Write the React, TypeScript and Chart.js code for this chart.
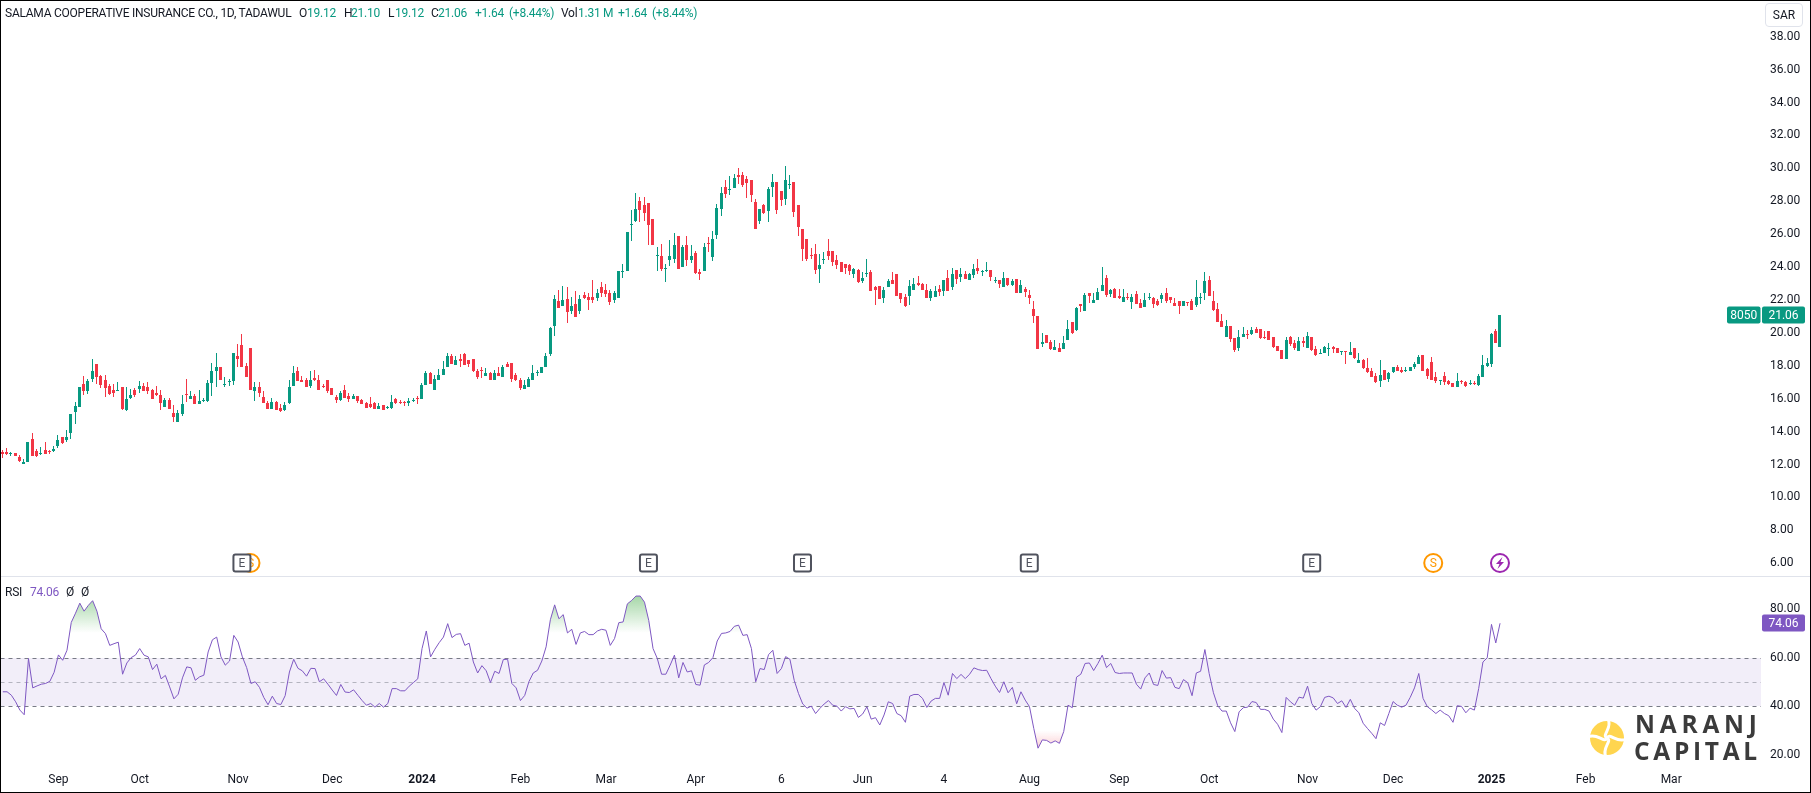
import { useEffect, useRef } from "react";
import { Chart, registerables } from "chart.js";
Chart.register(...registerables);

const highs = [
  12.87,12.99,12.77,12.69,12.57,12.32,13.35,13.90,12.93,13.05,13.35,12.87,13.11,13.78,13.66,14.08,15.05,15.78,16.69,17.41,
  17.23,18.44,18.14,17.47,17.47,16.87,16.87,16.99,16.69,16.69,16.57,16.63,17.05,16.93,16.99,16.57,16.75,16.51,16.02,16.02,
  15.60,15.29,16.20,17.23,16.45,16.26,16.51,16.02,17.11,18.20,18.75,17.96,17.35,17.23,18.75,19.35,19.96,18.20,19.11,16.99,
  16.99,16.45,15.84,16.02,15.84,15.66,15.78,17.11,18.02,17.96,17.41,17.29,17.66,17.72,17.47,16.87,17.11,16.63,16.20,16.45,
  16.81,16.32,16.26,16.14,15.96,15.78,16.08,15.78,15.72,15.60,15.54,16.20,16.02,15.90,15.84,16.02,16.02,16.14,16.93,17.66,
  17.60,17.47,17.78,18.32,18.81,18.69,18.57,18.69,18.75,18.38,18.44,17.78,17.90,17.84,17.60,17.72,17.96,18.08,18.26,18.20,
  17.54,17.29,17.11,17.35,18.08,17.72,17.96,18.75,20.38,22.32,22.63,22.87,22.81,22.20,22.56,22.32,22.50,22.44,23.23,22.69,
  23.11,22.99,22.63,22.56,23.78,24.20,26.14,27.47,28.50,28.26,28.26,27.90,26.93,25.23,25.41,24.20,25.66,26.08,25.90,25.35,
  25.90,25.35,24.99,23.90,25.47,25.84,26.20,27.84,28.87,29.29,29.53,29.66,30.02,29.78,29.53,29.29,28.14,27.53,27.84,28.87,
  29.66,29.17,28.63,30.14,29.60,29.17,27.78,26.32,25.72,25.17,25.41,24.81,24.93,25.72,24.99,24.75,24.32,24.20,24.20,23.96,
  23.90,23.72,24.50,23.84,22.87,22.87,22.81,23.29,23.72,23.60,22.45,22.39,23.23,23.36,23.48,23.05,22.99,22.69,22.87,22.93,
  23.23,23.84,23.96,23.84,23.96,23.78,23.66,24.20,24.51,23.84,24.32,23.84,23.42,23.23,23.72,23.36,23.30,23.30,23.23,22.81,
  22.63,21.96,21.05,20.02,19.90,19.54,19.54,19.36,19.84,20.81,20.69,21.60,21.78,22.45,22.45,22.45,22.75,24.02,23.54,22.69,
  22.75,22.69,22.69,22.45,22.39,22.57,22.08,22.45,22.45,22.20,22.08,22.45,22.75,22.20,22.14,21.96,21.96,21.90,22.08,23.23,
  22.45,23.72,23.48,22.57,21.84,21.17,20.81,20.45,19.72,20.20,20.33,20.20,20.33,20.39,20.26,20.14,20.14,19.78,19.23,18.99,
  19.78,19.84,19.54,19.78,19.78,20.08,19.78,19.23,19.05,19.23,19.36,19.23,19.11,18.93,18.93,19.42,19.11,18.81,18.39,18.45,
  17.84,17.54,18.33,17.72,17.60,17.96,18.08,17.96,17.90,17.90,18.26,18.63,18.63,17.84,18.51,17.60,17.17,17.60,17.11,16.93,
  17.54,17.17,17.05,17.17,17.05,17.48,18.63,18.45,20.02,20.26,21.10,
];

const lows = [
  12.40,12.57,12.53,12.51,12.18,12.02,12.14,12.51,12.45,12.57,12.63,12.65,12.77,12.99,13.23,13.35,13.54,14.45,15.48,16.20,
  16.26,16.99,16.87,16.63,16.08,16.20,16.08,16.45,15.29,15.23,15.96,16.08,16.32,16.45,16.26,15.96,16.14,15.29,15.48,15.35,
  14.57,14.57,14.93,15.78,15.96,15.66,15.66,15.78,15.78,16.14,16.69,17.11,16.69,16.75,16.81,17.96,17.90,17.35,16.51,15.84,
  16.08,15.72,15.35,15.35,15.29,15.17,15.23,15.66,16.75,17.05,16.99,16.69,16.63,17.05,16.51,16.63,16.38,16.20,15.72,15.84,
  16.02,15.78,15.96,15.72,15.66,15.41,15.41,15.35,15.35,15.29,15.35,15.35,15.66,15.66,15.54,15.54,15.78,15.66,15.96,16.81,
  16.87,16.51,17.17,17.47,17.90,18.14,18.08,17.96,18.08,17.96,17.60,17.23,17.29,17.41,17.11,17.11,17.41,17.35,17.92,16.99,
  17.05,16.51,16.57,16.69,17.17,17.41,17.54,17.96,18.57,19.84,21.53,21.66,20.63,21.17,20.99,21.17,22.08,21.41,21.84,21.96,
  22.20,22.20,21.72,21.84,22.14,23.35,23.78,25.60,26.75,26.75,26.81,25.35,25.35,23.78,23.78,23.11,24.08,24.26,23.90,24.02,
  24.08,24.26,23.60,23.23,23.78,24.93,24.38,25.72,27.11,28.20,28.38,28.81,29.05,28.87,28.20,27.96,26.32,26.63,27.23,26.75,
  28.26,27.23,27.72,27.78,28.75,27.05,25.90,24.38,24.38,24.50,23.60,23.05,24.20,24.44,24.08,23.90,23.72,23.60,23.53,23.35,
  23.05,23.05,23.41,22.56,21.72,22.08,21.84,22.81,22.99,22.26,21.84,21.60,21.72,22.63,22.87,22.63,22.14,21.96,22.20,22.26,
  22.26,22.57,22.63,22.99,23.11,23.30,23.23,23.36,23.60,23.48,23.72,23.17,23.05,22.75,22.81,22.87,22.87,22.45,22.45,22.20,
  21.78,20.63,19.05,19.17,19.36,18.99,18.99,18.87,19.05,19.54,19.96,20.14,21.29,21.36,21.84,21.84,22.02,22.57,22.20,22.20,
  22.14,22.08,21.90,22.02,21.48,21.78,21.54,21.60,22.02,21.54,21.66,21.84,21.84,21.84,21.66,21.17,21.66,21.66,21.42,21.60,
  21.78,22.02,22.26,21.36,20.69,20.33,19.78,19.42,18.87,18.93,19.78,19.66,19.90,20.02,19.66,19.66,19.60,19.11,18.93,18.39,
  18.39,19.23,18.99,18.93,19.17,19.11,18.93,18.57,18.69,18.81,18.57,18.81,18.81,18.63,18.14,18.63,18.39,18.20,17.78,17.54,
  17.30,16.93,16.69,17.11,16.99,17.54,17.66,17.54,17.60,17.66,17.78,18.14,17.66,17.23,17.11,16.93,16.81,16.81,16.81,16.69,
  16.69,16.87,16.69,16.81,16.81,16.75,17.30,17.96,17.96,19.36,19.12,
];

const opens = [
  12.77,12.75,12.63,12.69,12.45,12.02,12.14,13.54,12.81,12.63,12.87,12.83,12.81,13.11,13.66,13.48,13.90,15.17,15.48,16.87,
  16.45,17.23,18.14,17.41,17.11,16.75,16.51,16.45,16.69,15.29,16.02,16.51,16.57,16.75,16.69,16.51,16.38,16.20,15.48,15.90,
  15.11,14.57,15.05,16.26,15.96,16.14,15.66,15.84,15.84,16.93,17.66,17.90,16.81,17.01,17.05,18.57,19.29,18.02,19.11,16.45,
  16.69,16.08,15.72,15.35,15.78,15.41,15.29,15.72,16.75,17.66,17.11,17.11,16.75,17.29,17.17,16.75,17.11,16.63,16.08,15.90,
  16.51,16.14,15.96,16.14,15.90,15.72,15.66,15.72,15.35,15.60,15.41,15.41,15.96,15.78,15.78,15.72,15.86,16.04,15.96,16.81,
  17.54,16.51,17.17,17.47,17.90,18.57,18.08,18.44,18.69,18.38,18.44,17.66,17.74,17.41,17.54,17.11,17.54,17.35,18.14,18.20,
  17.47,17.17,16.57,16.69,17.17,17.54,17.54,17.96,18.69,20.44,21.96,21.66,22.08,21.35,21.78,21.35,22.32,22.20,22.20,22.14,
  22.81,22.63,22.44,22.02,22.14,23.72,23.78,26.56,26.81,28.02,27.78,27.90,26.93,24.69,24.69,23.90,24.44,24.50,25.90,24.02,
  25.35,24.44,24.87,23.72,23.78,25.47,24.63,25.96,27.53,28.87,28.69,28.81,29.60,29.60,29.35,29.29,27.96,26.81,27.78,27.41,
  28.87,29.17,28.63,28.14,28.99,29.17,27.78,26.32,25.72,24.75,24.81,23.90,24.44,24.99,24.99,24.44,24.32,24.20,24.14,23.60,
  23.84,23.17,23.60,23.72,22.81,22.87,22.14,22.81,23.23,23.60,22.45,22.20,22.26,22.63,23.05,22.99,22.63,22.14,22.20,22.69,
  22.57,23.36,22.81,23.84,23.42,23.60,23.23,23.54,23.96,23.72,23.78,23.84,23.17,23.23,22.81,23.36,22.93,23.30,22.45,22.69,
  22.33,21.48,21.05,19.30,19.90,19.42,18.99,19.11,19.05,19.60,20.69,20.20,21.78,21.36,22.45,21.84,22.02,22.57,23.36,22.39,
  22.69,22.26,21.90,22.20,21.90,22.39,21.84,21.60,22.14,22.14,21.96,22.08,22.45,22.20,21.84,21.96,21.66,21.90,21.96,21.72,
  22.14,22.45,23.23,21.96,21.48,20.75,19.78,20.45,19.72,19.11,19.78,19.96,19.96,20.26,20.26,19.78,20.14,19.78,19.23,18.99,
  18.39,19.78,19.36,18.93,19.48,19.11,19.78,19.05,18.75,18.81,19.07,19.17,19.09,18.87,18.93,18.63,19.11,18.20,18.33,17.84,
  17.66,17.36,17.05,17.72,17.23,17.60,17.90,17.72,17.66,17.66,17.90,18.14,18.63,17.78,18.26,17.30,17.11,17.36,17.05,16.93,
  16.69,17.05,16.99,16.87,16.95,16.81,17.30,18.02,18.14,20.14,19.12,
];

const closes = [
  12.63,12.63,12.71,12.51,12.20,12.14,13.35,12.51,12.55,12.69,12.63,12.77,12.93,13.48,13.29,13.66,15.05,15.54,16.69,16.45,
  17.05,17.66,17.35,16.81,16.63,16.26,16.38,16.51,15.35,15.96,16.20,16.20,16.75,16.45,16.45,15.96,16.20,15.72,15.90,15.35,
  14.87,15.11,15.66,16.20,16.14,15.66,15.84,15.90,16.93,17.66,17.90,17.17,16.87,17.05,18.75,18.44,17.90,17.35,16.51,16.69,
  16.38,15.72,15.35,15.78,15.29,15.23,15.60,16.69,17.54,17.05,16.99,16.69,17.17,17.11,16.51,16.69,16.45,16.20,15.90,16.38,
  16.02,15.96,16.14,15.84,15.66,15.41,15.48,15.35,15.54,15.29,15.48,15.78,15.72,15.72,15.72,15.84,15.92,15.98,16.81,17.54,
  16.87,17.23,17.47,17.78,18.57,18.14,18.38,18.32,18.08,18.14,17.66,17.35,17.68,17.54,17.11,17.54,17.41,17.96,17.96,17.23,
  17.11,16.63,16.81,17.23,17.54,17.60,17.96,18.57,20.32,22.08,21.53,22.02,21.29,21.66,20.99,22.08,22.14,22.02,22.02,22.44,
  22.44,22.38,21.90,22.44,23.78,23.78,26.14,26.63,27.53,27.47,27.29,26.56,25.35,24.75,23.90,23.96,24.69,25.35,23.90,25.23,
  24.44,24.69,23.66,23.60,25.23,25.41,25.72,27.60,28.50,28.44,28.75,29.41,29.47,28.99,29.11,28.38,26.32,27.53,27.29,28.75,
  29.17,27.47,28.08,29.29,29.05,27.35,26.44,25.11,24.50,24.69,23.84,24.14,24.50,24.69,24.32,24.14,23.72,23.96,23.78,23.90,
  23.11,23.35,23.66,22.56,22.63,22.08,22.63,23.17,22.99,22.26,22.08,21.66,22.87,22.99,22.93,22.63,22.14,22.57,22.57,22.51,
  23.23,22.57,23.60,23.30,23.60,23.30,23.60,23.90,23.78,23.78,23.84,23.42,23.23,22.99,23.36,22.93,23.17,22.45,22.93,22.51,
  22.14,21.05,19.05,19.42,19.36,19.05,19.17,18.87,19.36,20.26,20.02,21.54,21.66,22.33,22.26,22.02,22.51,22.93,22.33,22.63,
  22.14,22.14,22.20,22.14,22.20,21.78,21.54,22.02,22.20,21.78,21.72,22.33,21.96,22.02,21.66,21.66,21.96,21.84,21.42,22.20,
  22.20,23.17,22.26,21.42,20.69,20.39,20.45,19.66,18.99,19.78,19.96,19.90,20.20,20.02,19.72,19.72,19.60,19.17,18.93,18.39,
  19.60,19.30,19.11,19.48,19.36,19.84,18.99,18.63,18.81,19.17,19.11,19.05,18.81,18.93,18.87,18.87,18.45,18.33,17.84,17.60,
  17.30,17.00,17.42,17.17,17.54,17.90,17.66,17.60,17.72,17.90,18.14,18.51,17.66,17.36,17.17,17.05,17.17,16.99,16.87,16.69,
  17.05,16.99,16.75,16.93,16.89,17.36,18.08,18.20,19.96,19.36,21.06,
];

const rsi = [
  46.0,46.0,44.6,41.9,38.5,36.6,59.6,47.6,48.4,49.1,49.4,50.3,54.0,61.1,58.9,63.0,74.4,78.2,82.3,79.0,
  81.4,83.3,79.0,71.8,69.8,65.0,65.7,66.3,53.2,57.8,60.0,61.0,63.7,61.0,60.3,55.1,57.3,51.3,52.7,48.0,
  43.1,45.0,51.7,56.2,55.8,50.7,52.1,52.8,62.3,67.3,68.4,60.3,56.9,58.6,69.1,66.4,60.3,55.9,49.4,50.1,
  47.8,43.7,40.7,44.2,41.2,40.8,44.4,54.1,59.3,55.6,54.6,52.4,55.6,55.5,50.1,51.3,49.1,46.7,44.5,49.0,
  45.9,45.7,46.8,44.6,42.4,40.5,41.2,39.7,41.2,39.7,41.2,47.3,47.3,46.4,46.4,48.3,49.8,51.3,63.7,70.9,
  60.3,63.4,66.1,68.4,73.9,68.2,69.5,69.8,65.0,65.9,58.2,53.7,56.7,54.6,49.8,54.4,53.5,59.2,59.3,49.4,
  47.6,42.4,44.5,50.2,53.7,54.8,58.6,64.4,75.5,81.6,75.9,77.6,70.1,71.6,65.4,70.1,70.7,69.4,69.4,70.9,
  71.6,71.2,65.0,67.8,74.3,74.6,82.0,83.4,85.2,85.2,82.7,75.2,63.7,59.6,53.2,53.2,56.9,61.0,51.7,58.0,
  54.1,54.6,49.0,48.7,57.0,58.0,60.0,66.8,69.9,70.1,70.7,72.8,73.3,69.1,69.4,63.7,50.1,55.5,55.1,61.2,
  63.0,53.5,55.5,60.4,59.3,50.7,45.3,41.0,39.3,40.1,37.1,39.2,41.0,42.4,40.5,40.1,38.1,39.9,39.0,39.2,
  35.5,36.9,39.9,34.8,35.4,32.4,36.5,41.9,41.2,37.1,36.2,33.5,44.2,44.9,44.9,43.3,39.6,42.2,43.3,43.3,
  49.8,44.6,53.5,51.4,53.1,51.4,53.2,55.8,55.1,54.7,54.8,51.4,48.3,45.7,50.1,45.6,47.8,41.1,46.0,42.6,
  39.9,31.0,22.9,26.3,26.1,25.0,25.9,24.9,29.7,40.5,39.5,52.0,53.2,57.6,57.8,54.7,57.6,61.0,55.9,57.6,
  53.9,53.5,53.7,53.7,53.7,49.1,47.1,51.7,53.7,49.0,48.6,54.7,51.6,51.8,47.8,47.3,51.0,49.7,44.4,53.7,
  54.4,63.3,53.5,45.6,40.3,38.1,38.1,33.3,29.7,37.8,39.5,39.7,42.0,41.6,38.8,38.8,38.1,34.8,32.7,29.3,
  43.7,41.9,40.5,43.8,43.4,48.3,41.2,38.5,39.9,43.7,44.2,43.5,41.2,42.3,39.6,42.9,39.2,37.4,33.1,31.0,
  29.0,26.8,33.3,32.2,37.1,42.0,40.5,39.7,40.5,43.7,47.6,53.5,43.3,39.9,38.6,37.1,38.5,37.1,36.2,33.5,
  40.3,40.0,37.4,39.3,38.5,47.3,58.2,59.9,73.6,66.0,74.06,
];

const priceTicks = [6, 8, 10, 12, 14, 16, 18, 20, 22, 24, 26, 28, 30, 32, 34, 36, 38];
const rsiTicks = [20, 40, 60, 80];
const timeBars = [13, 32, 55, 77, 98, 121, 141, 162, 182, 201, 220, 240, 261, 282, 305, 325, 348, 370, 390];
const timeNames = ["Sep", "Oct", "Nov", "Dec", "2024", "Feb", "Mar", "Apr", "6", "Jun", "4", "Aug", "Sep", "Oct", "Nov", "Dec", "2025", "Feb", "Mar"];
const eventBars = [58, 56, 151, 187, 240, 306, 334.4, 350];
const eventKinds = ["S", "E", "E", "E", "E", "E", "S", "F"];

const UP = "#089981";
const DOWN = "#F23645";
const PURPLE = "#7E57C2";
const TEXT = "#131722";
const FONT = "Roboto, sans-serif";
const X_MIN = -0.54;
const X_MAX = 411;

const xScale = (show: boolean) => ({
  type: "linear" as const,
  min: X_MIN,
  max: X_MAX,
  offset: false,
  display: show,
  grid: { display: false, drawTicks: false },
  border: { display: false },
  afterBuildTicks: (s: any) => { s.ticks = timeBars.map(value => ({ value })); },
  afterFit: (s: any) => {
    s.height = show ? 26 : 0;
    s.paddingLeft = 0;
    s.paddingRight = 0;
  },
  ticks: {
    autoSkip: false,
    maxRotation: 0,
    padding: 6,
    color: TEXT,
    font: (c: any) => ({ family: FONT, size: 12, weight: /^20/.test(timeNames[c.index] ?? "") ? "bold" : "normal" }),
    callback: (v: any) => timeNames[timeBars.indexOf(v)] ?? "",
  },
});

const yScale = (min: number, max: number, values: number[]) => ({
  position: "right" as const,
  min,
  max,
  grid: { display: false, drawTicks: false },
  border: { display: false },
  afterBuildTicks: (s: any) => { s.ticks = values.map(value => ({ value })); },
  afterFit: (s: any) => {
    s.width = 50;
    s.paddingTop = 0;
    s.paddingBottom = 0;
  },
  ticks: {
    padding: 9,
    color: TEXT,
    font: { family: FONT, size: 12 },
    callback: (v: any) => Number(v).toFixed(2),
  },
});

// keeps the candles on whole pixels the way the original chart does
const snapBars = {
  id: "snapBars",
  afterDatasetsUpdate(chart: any) {
    chart.data.datasets.forEach((_: any, k: number) => {
      for (const el of chart.getDatasetMeta(k).data) {
        el.x = Math.floor(el.x) + 0.5;
        el.y = Math.round(el.y);
        el.base = Math.round(el.base);
        if (el.y === el.base) el.base += 1;
      }
    });
  },
};

function roundBox(ctx: CanvasRenderingContext2D, x: number, y: number, w: number, h: number, r: number) {
  ctx.beginPath();
  ctx.roundRect(x, y, w, h, r);
}

function valueTag(ctx: CanvasRenderingContext2D, text: string, x: number, y: number, w: number, color: string) {
  ctx.fillStyle = color;
  roundBox(ctx, x, y - 8.5, w, 17, 2);
  ctx.fill();
  ctx.fillStyle = "#fff";
  ctx.font = `12px ${FONT}`;
  ctx.textAlign = "center";
  ctx.textBaseline = "middle";
  ctx.fillText(text, x + w / 2, y + 0.5);
}

const priceMarks = {
  id: "priceMarks",
  afterDraw(chart: any) {
    const { ctx, scales } = chart;
    ctx.save();
    eventBars.forEach((bar, i) => {
      const x = scales.x.getPixelForValue(bar);
      const y = 563;
      const kind = eventKinds[i];
      ctx.lineWidth = 2;
      ctx.fillStyle = "#fff";
      if (kind === "E") {
        ctx.strokeStyle = "#50535E";
        roundBox(ctx, x - 8.5, y - 8.5, 17, 17, 2);
        ctx.fill();
        ctx.stroke();
        ctx.fillStyle = "#50535E";
      } else {
        ctx.strokeStyle = kind === "S" ? "#FF9800" : "#9C27B0";
        ctx.beginPath();
        ctx.arc(x, y, 9, 0, Math.PI * 2);
        ctx.fill();
        ctx.stroke();
        ctx.fillStyle = ctx.strokeStyle;
      }
      ctx.textAlign = "center";
      ctx.textBaseline = "middle";
      if (kind === "F") {
        ctx.beginPath();
        ctx.moveTo(x + 2.5, y - 6);
        ctx.lineTo(x - 4, y + 1);
        ctx.lineTo(x - 0.5, y + 1);
        ctx.lineTo(x - 2.5, y + 6);
        ctx.lineTo(x + 4, y - 1);
        ctx.lineTo(x + 0.5, y - 1);
        ctx.closePath();
        ctx.fill();
      } else {
        ctx.font = `12px ${FONT}`;
        ctx.fillText(kind, x, y + 0.5);
      }
    });
    const y = Math.round(scales.y.getPixelForValue(closes[closes.length - 1]));
    valueTag(ctx, "8050", 1727, y, 33.5, UP);
    valueTag(ctx, closes[closes.length - 1].toFixed(2), 1762, y, 43, UP);
    ctx.restore();
  },
};

const rsiMarks = {
  id: "rsiMarks",
  beforeDatasetsDraw(chart: any) {
    const { ctx, scales, chartArea } = chart;
    const top = Math.round(scales.y.getPixelForValue(60));
    const bottom = Math.round(scales.y.getPixelForValue(40));
    ctx.save();
    ctx.fillStyle = "rgba(126,87,194,0.1)";
    ctx.fillRect(chartArea.left, top, chartArea.right - chartArea.left, bottom - top);
    ctx.setLineDash([4, 4]);
    ctx.lineWidth = 1;
    [60, 50, 40].forEach(level => {
      const y = Math.round(scales.y.getPixelForValue(level)) + 0.5;
      ctx.strokeStyle = level === 50 ? "rgba(120,123,134,0.5)" : "#787B86";
      ctx.beginPath();
      ctx.moveTo(chartArea.left, y);
      ctx.lineTo(chartArea.right, y);
      ctx.stroke();
    });
    ctx.restore();
  },
  afterDraw(chart: any) {
    const { ctx, scales } = chart;
    const last = rsi[rsi.length - 1];
    ctx.save();
    valueTag(ctx, last.toFixed(2), 1762, Math.round(scales.y.getPixelForValue(last)), 43, PURPLE);
    ctx.restore();
  },
};

function Logo() {
  const arm = "M0 0 C-6 -3 6 -10 1 -19";
  return (
    <>
      <svg width="40" height="40" viewBox="-20 -20 40 40" style={{ position: "absolute", left: 1587, top: 718 }}>
        <circle r="17" fill="#FFD54F" />
        {[0, 90, 180, 270].map(a => (
          <path key={a} d={arm} fill="none" stroke="#fff" strokeWidth="3" transform={`rotate(${a})`} />
        ))}
      </svg>
      <div style={{ position: "absolute", left: 1635, top: 708, font: `700 24.5px/32px "Open Sans"`, letterSpacing: 4.8, color: "#3B3B3B" }}>NARANJ</div>
      <div style={{ position: "absolute", left: 1634, top: 734.5, font: `700 24.5px/32px "Open Sans"`, letterSpacing: 3.7, color: "#3B3B3B" }}>CAPITAL</div>
    </>
  );
}

function Label({ x, y, color = TEXT, children }: { x: number; y: number; color?: string; children: React.ReactNode }) {
  return (
    <span style={{ position: "absolute", left: x, top: y - 8, font: `12px/16px ${FONT}`, letterSpacing: -0.25, color, whiteSpace: "nowrap" }}>{children}</span>
  );
}

export default function App() {
  const priceRef = useRef<HTMLCanvasElement>(null);
  const rsiRef = useRef<HTMLCanvasElement>(null);

  useEffect(() => {
    if (!priceRef.current) return;
    const colors = closes.map((c, i) => (c >= opens[i] ? UP : DOWN));
    const chart = new Chart(priceRef.current, {
      type: "bar",
      data: {
        datasets: [
          { data: highs.map((h, i) => ({ x: i, y: [lows[i], h] })), backgroundColor: colors, barThickness: 1, grouped: false, inflateAmount: 0 },
          { data: opens.map((o, i) => ({ x: i, y: [o, closes[i]] })), backgroundColor: colors, barThickness: 3, grouped: false, inflateAmount: 0 },
        ],
      } as any,
      options: {
        responsive: false,
        animation: false,
        devicePixelRatio: 1,
        layout: { padding: 0 },
        plugins: { legend: { display: false }, tooltip: { enabled: false } },
        scales: { x: xScale(false), y: yScale(5.23, 40.23, priceTicks) },
      } as any,
      plugins: [snapBars, priceMarks],
    });
    return () => chart.destroy();
  }, []);

  useEffect(() => {
    if (!rsiRef.current) return;
    const points = rsi.map((y, x) => ({ x, y }));
    const chart = new Chart(rsiRef.current, {
      type: "line",
      data: {
        datasets: [
          { data: points, borderColor: PURPLE, borderWidth: 1, pointRadius: 0, tension: 0, fill: false },
          { data: points, borderWidth: 0, pointRadius: 0, tension: 0, fill: false },
        ],
      } as any,
      options: {
        responsive: false,
        animation: false,
        devicePixelRatio: 1,
        layout: { padding: 0 },
        plugins: { legend: { display: false }, tooltip: { enabled: false } },
        scales: { x: xScale(true), y: yScale(15.2, 92.8, rsiTicks) },
      } as any,
      plugins: [rsiMarks],
    });
    // the over 70 / under 30 shading needs the finished scale for its gradients
    const y = chart.scales.y;
    const ctx = chart.ctx;
    const green = ctx.createLinearGradient(0, y.getPixelForValue(100), 0, y.getPixelForValue(70));
    green.addColorStop(0, "rgba(76,175,80,1)");
    green.addColorStop(1, "rgba(76,175,80,0)");
    const red = ctx.createLinearGradient(0, y.getPixelForValue(30), 0, y.getPixelForValue(0));
    red.addColorStop(0, "rgba(242,54,69,0)");
    red.addColorStop(1, "rgba(242,54,69,1)");
    chart.data.datasets[0].fill = { target: { value: 70 }, above: green, below: "transparent" } as any;
    chart.data.datasets[1].fill = { target: { value: 30 }, above: "transparent", below: red } as any;
    chart.update();
    return () => chart.destroy();
  }, []);

  return (
    <div style={{ position: "fixed", left: 0, top: 0, width: 1811, height: 793, background: "#fff", overflow: "hidden" }}>
      <canvas ref={priceRef} width={1811} height={576} style={{ position: "absolute", left: 0, top: 0, display: "block" }} />
      <div style={{ position: "absolute", left: 0, top: 576, width: 1811, height: 1, background: "#E0E3EB" }} />
      <canvas ref={rsiRef} width={1811} height={216} style={{ position: "absolute", left: 0, top: 577, display: "block" }} />

      <Label x={5} y={13}>SALAMA COOPERATIVE INSURANCE CO., 1D, TADAWUL</Label>
      <Label x={299} y={13}>O</Label>
      <Label x={307} y={13} color={UP}>19.12</Label>
      <Label x={344} y={13}>H</Label>
      <Label x={351} y={13} color={UP}>21.10</Label>
      <Label x={388} y={13}>L</Label>
      <Label x={395} y={13} color={UP}>19.12</Label>
      <Label x={431} y={13}>C</Label>
      <Label x={438} y={13} color={UP}>21.06</Label>
      <Label x={475} y={13} color={UP}>+1.64</Label>
      <Label x={509} y={13} color={UP}>(+8.44%)</Label>
      <Label x={561} y={13}>Vol</Label>
      <Label x={578} y={13} color={UP}>1.31 M</Label>
      <Label x={618} y={13} color={UP}>+1.64</Label>
      <Label x={652} y={13} color={UP}>(+8.44%)</Label>

      <Label x={5} y={592}>RSI</Label>
      <Label x={30} y={592} color={PURPLE}>74.06</Label>
      <Label x={66} y={592}>Ø</Label>
      <Label x={81} y={592}>Ø</Label>

      <div style={{ position: "absolute", left: 1765, top: 3, width: 38, height: 24, boxSizing: "border-box", border: "1px solid #E0E3EB", borderRadius: 4, font: `12px/22px ${FONT}`, color: TEXT, textAlign: "center" }}>SAR</div>

      <Logo />
      <div style={{ position: "absolute", inset: 0, border: "1px solid #000", pointerEvents: "none" }} />
    </div>
  );
}
